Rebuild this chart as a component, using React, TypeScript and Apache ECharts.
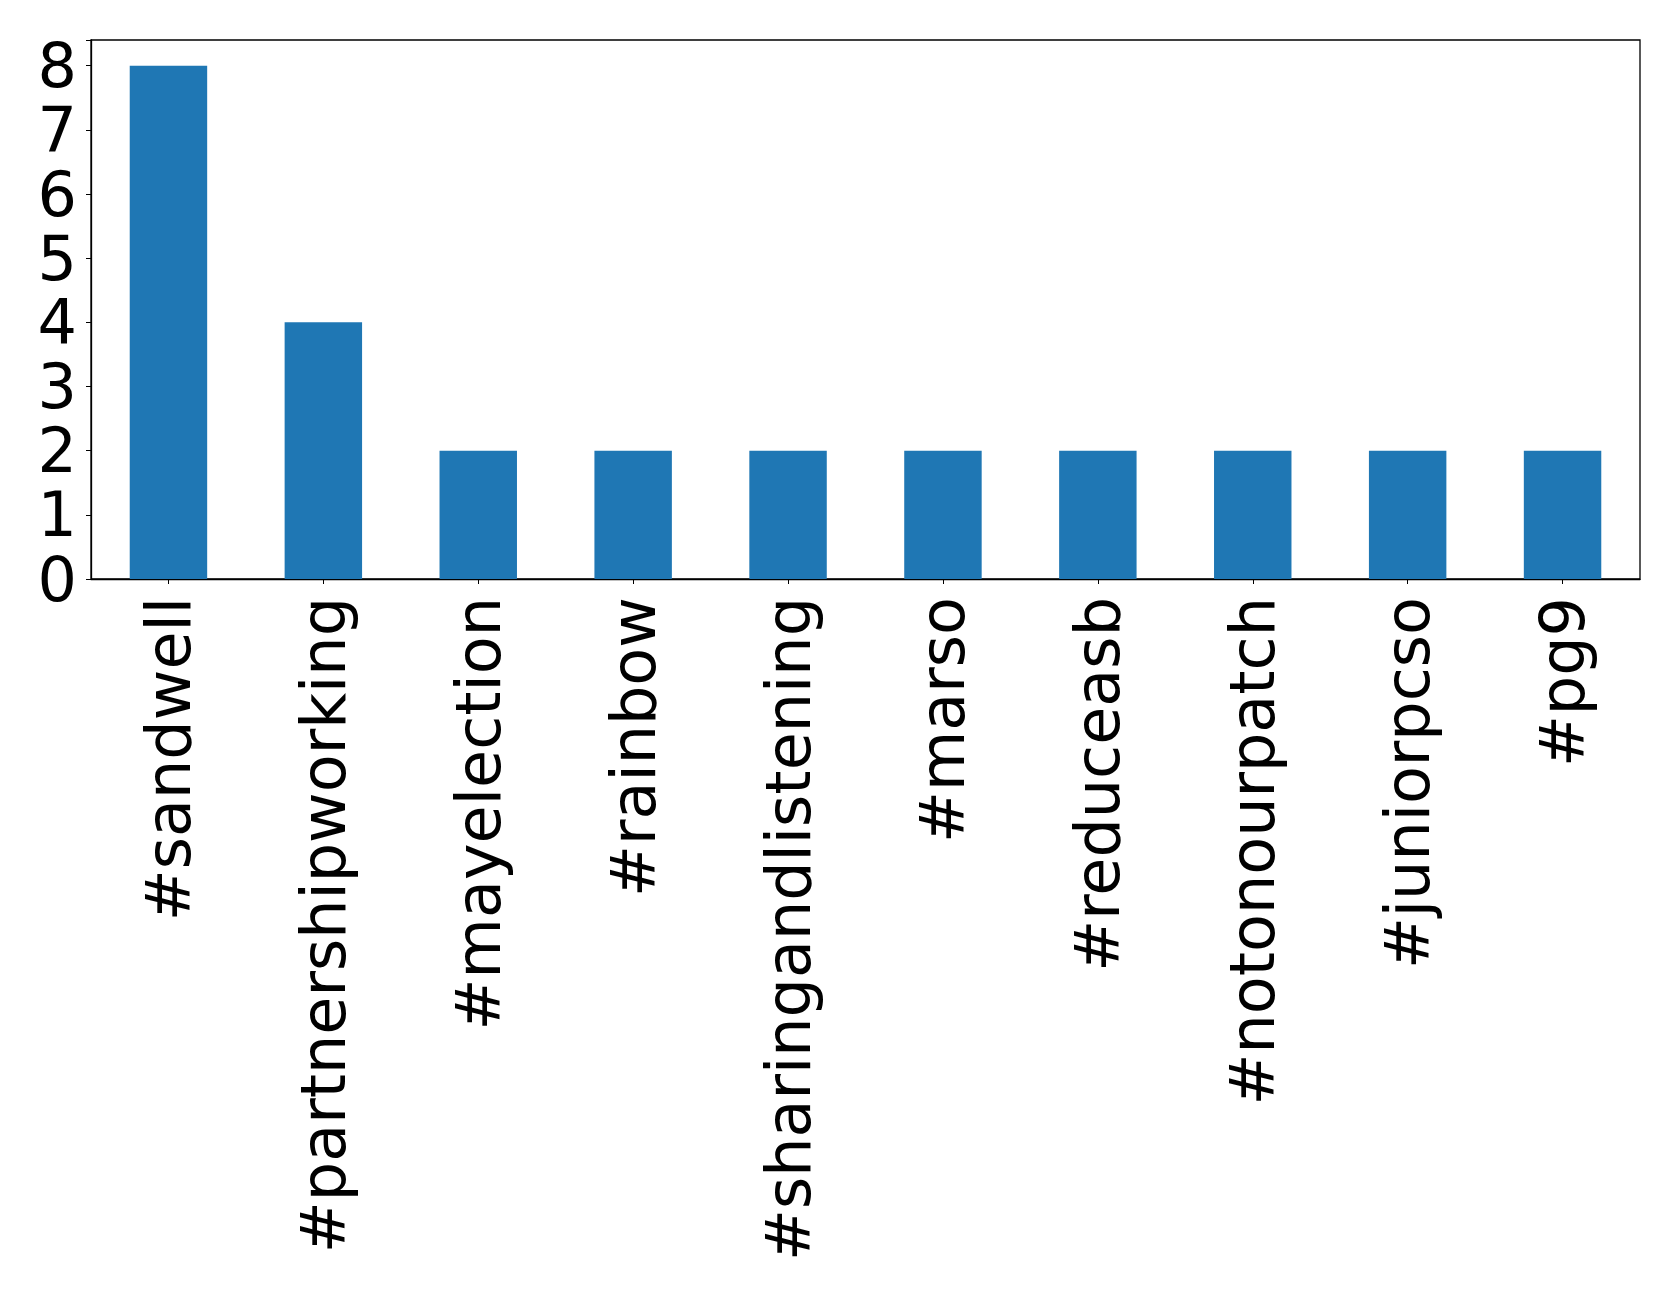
import React, { useEffect, useRef } from "react";
import * as echarts from "echarts";

const categories = [
  "#sandwell",
  "#partnershipworking",
  "#mayelection",
  "#rainbow",
  "#sharingandlistening",
  "#marso",
  "#reduceasb",
  "#notonourpatch",
  "#juniorpcso",
  "#pg9",
];
const counts = [8, 4, 2, 2, 2, 2, 2, 2, 2, 2];
const yMax = 8.4;

export default function App() {
  const ref = useRef<HTMLDivElement>(null);
  useEffect(() => {
    if (!ref.current) return;
    const chart = echarts.init(ref.current, null, { renderer: "svg" });
    const font = "DejaVu Sans";
    chart.setOption({
      animation: false,
      backgroundColor: "#ffffff",
      grid: {
        left: 91,
        top: 40,
        width: 1549,
        height: 539,
        show: true,
        borderColor: "#000",
        borderWidth: 1.3,
        containLabel: false,
      },
      xAxis: {
        type: "category",
        data: categories,
        axisLine: { show: true, lineStyle: { color: "#000", width: 1.3 } },
        axisTick: { show: true, alignWithLabel: true, length: 5, lineStyle: { color: "#000" } },
        axisLabel: {
          rotate: 90,
          interval: 0,
          margin: 18,
          fontFamily: font,
          fontSize: 62,
          color: "#000",
        },
        splitLine: { show: false },
      },
      yAxis: {
        type: "value",
        min: 0,
        max: yMax,
        interval: 1,
        axisLine: { show: true, lineStyle: { color: "#000", width: 1.3 } },
        axisTick: { show: true, length: 5, lineStyle: { color: "#000" } },
        axisLabel: {
          margin: 14,
          fontFamily: font,
          fontSize: 62,
          color: "#000",
          formatter: (v: number) => (Number.isInteger(v) ? String(v) : ""),
        },
        splitLine: { show: false },
      },
      series: [
        {
          type: "bar",
          data: counts,
          barWidth: "50%",
          itemStyle: { color: "#1f77b4" },
        },
      ],
    });
    return () => chart.dispose();
  }, []);
  return (
    <div
      ref={ref}
      style={{ position: "fixed", left: 0, top: 0, width: 1679, height: 1297, background: "#fff" }}
    />
  );
}
